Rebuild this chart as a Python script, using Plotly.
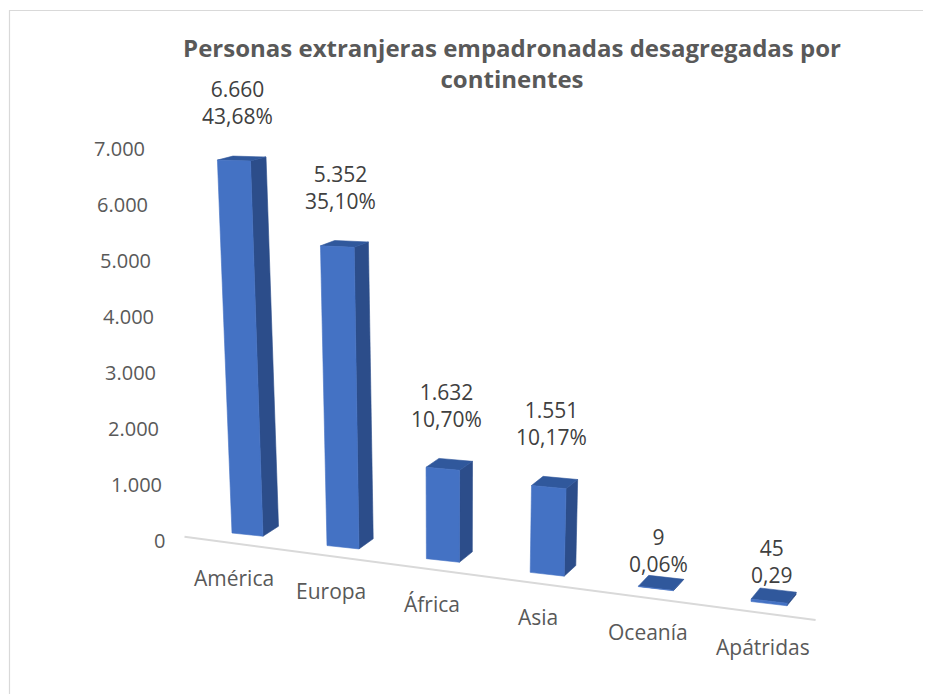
import plotly.graph_objects as go

# ---------------- data ----------------
CATEGORIES = ["América", "Europa", "África", "Asia", "Oceanía", "Apátridas"]
VALUES = [6660, 5352, 1632, 1551, 9, 45]
PERCENT_LABELS = ["43,68%", "35,10%", "10,70%", "10,17%", "0,06%", "0,29"]
Y_TICKS = [0, 1000, 2000, 3000, 4000, 5000, 6000, 7000]
TITLE = "Personas extranjeras empadronadas desagregadas por<br>continentes"

# ---------------- figure / perspective model (screen space) ----------------
W, H = 931, 694
OFF = 8.0               # page body margin of the html page
ZERO_Y = 540.0          # screen y of value 0 on the value axis
PPU = 0.056             # pixels per unit of value
BL0_X, CAT_STEP, CAT_GROW = 232.0, 95.0, 2.2
FLOOR_Y0, FLOOR_SLOPE = 533.0, 0.132
VX, LEAN_D = 447.0, 5500.0
AXIS_X0 = 167.0

FRONT, SIDE, TOP = "#4472C4", "#2C4D8A", "#30589C"
TEXT_DARK, TEXT_GRAY, LINE_GRAY = "#404040", "#595959", "#D9D9D9"
FONT = "Open Sans"


def bar_width(i):
    return 31.0 + 1.0 * i


def depth_dx(i):
    return 15.5 - 1.3 * i


def depth_dy(y):
    return -(4.0 + 0.016 * (y - 163.0))


def edge_slope(y):
    return 0.03 + 0.0002 * (y - 163.0)


def base_x(i):
    return BL0_X + CAT_STEP * i + CAT_GROW * i * (i - 1)


def floor_y(x):
    return FLOOR_Y0 + FLOOR_SLOPE * (x - BL0_X)


def proj(i, u, v, d):
    bx = base_x(i)
    by = floor_y(bx)
    h = v * PPU
    x = bx + u * bar_width(i)
    y = by - h
    y += u * bar_width(i) * edge_slope(y)
    x += (x - VX) * h / LEAN_D
    if d:
        x += depth_dx(i)
        y += depth_dy(y)
    return x, y


def to_val(py):
    return (ZERO_Y - py) / PPU


def poly(points, color):
    xs = [p[0] for p in points] + [points[0][0]]
    ys = [to_val(p[1]) for p in points] + [to_val(points[0][1])]
    return go.Scatter(x=xs, y=ys, mode="lines", fill="toself", fillcolor=color,
                      line=dict(width=0.6, color=color), hoverinfo="skip", showlegend=False)


fig = go.Figure()

# floor edge line (category axis)
fx0 = base_x(0) - 0.5 * CAT_STEP
fx1 = base_x(len(CATEGORIES) - 1) + 0.68 * CAT_STEP
fig.add_trace(go.Scatter(x=[fx0, fx1], y=[to_val(floor_y(fx0) + 10), to_val(floor_y(fx1) + 10)],
                         mode="lines", line=dict(color=LINE_GRAY, width=2),
                         hoverinfo="skip", showlegend=False))

annotations = []
for i, (cat, v, pct) in enumerate(zip(CATEGORIES, VALUES, PERCENT_LABELS)):
    front = [proj(i, 0, 0, 0), proj(i, 1, 0, 0), proj(i, 1, v, 0), proj(i, 0, v, 0)]
    side = [proj(i, 1, 0, 0), proj(i, 1, 0, 1), proj(i, 1, v, 1), proj(i, 1, v, 0)]
    top = [proj(i, 0, v, 0), proj(i, 1, v, 0), proj(i, 1, v, 1), proj(i, 0, v, 1)]
    fig.add_trace(poly(side, SIDE))
    fig.add_trace(poly(top, TOP))
    fig.add_trace(poly(front, FRONT))

    # value label
    tx, ty = proj(i, 0.5, v, 0)
    _, tby = proj(i, 0.5, v, 1)
    gap = 13 + 27 * min(1.0, v / 1000.0)
    annotations.append(dict(x=tx + depth_dx(i) / 4, y=to_val(tby - gap - 14),
                            text=f"{v:,}".replace(",", ".") + "<br>" + pct,
                            showarrow=False, xanchor="center", yanchor="middle",
                            font=dict(family=FONT, size=21, color=TEXT_DARK)))
    # category label
    bx, by = proj(i, 0, 0, 0)
    annotations.append(dict(x=bx + 2 + 2 * i, y=to_val(by + 45), text=cat, showarrow=False,
                            xanchor="center", yanchor="middle",
                            font=dict(family=FONT, size=21, color=TEXT_GRAY)))

# value-axis tick labels (follow the perspective lean of the wall)
for t in Y_TICKS:
    h = t * PPU
    x = AXIS_X0 + (AXIS_X0 - VX) * h / LEAN_D
    annotations.append(dict(x=x, y=t, text=f"{t:,}".replace(",", "."), showarrow=False,
                            xanchor="right", yanchor="middle",
                            font=dict(family=FONT, size=20, color=TEXT_GRAY)))

fig.update_layout(
    width=W, height=H, autosize=False,
    margin=dict(l=0, r=0, t=0, b=0),
    paper_bgcolor="white", plot_bgcolor="white",
    xaxis=dict(visible=False, range=[OFF, W + OFF], fixedrange=True),
    yaxis=dict(visible=False, range=[to_val(H + OFF), to_val(OFF)], fixedrange=True),
    title=dict(text=TITLE, x=(512 - OFF) / W, xanchor="center", xref="container",
               y=1 - 49 / H, yanchor="top", yref="container",
               font=dict(family=FONT, size=24, color=TEXT_GRAY, weight="bold")),
    annotations=annotations,
    shapes=[dict(type="rect", xref="x", yref="y", x0=9.5, x1=W + 20,
                 y0=to_val(H + 20), y1=to_val(10.5),
                 line=dict(color=LINE_GRAY, width=1.2), fillcolor="rgba(0,0,0,0)",
                 layer="below")],
)

fig.write_html("out.html")
